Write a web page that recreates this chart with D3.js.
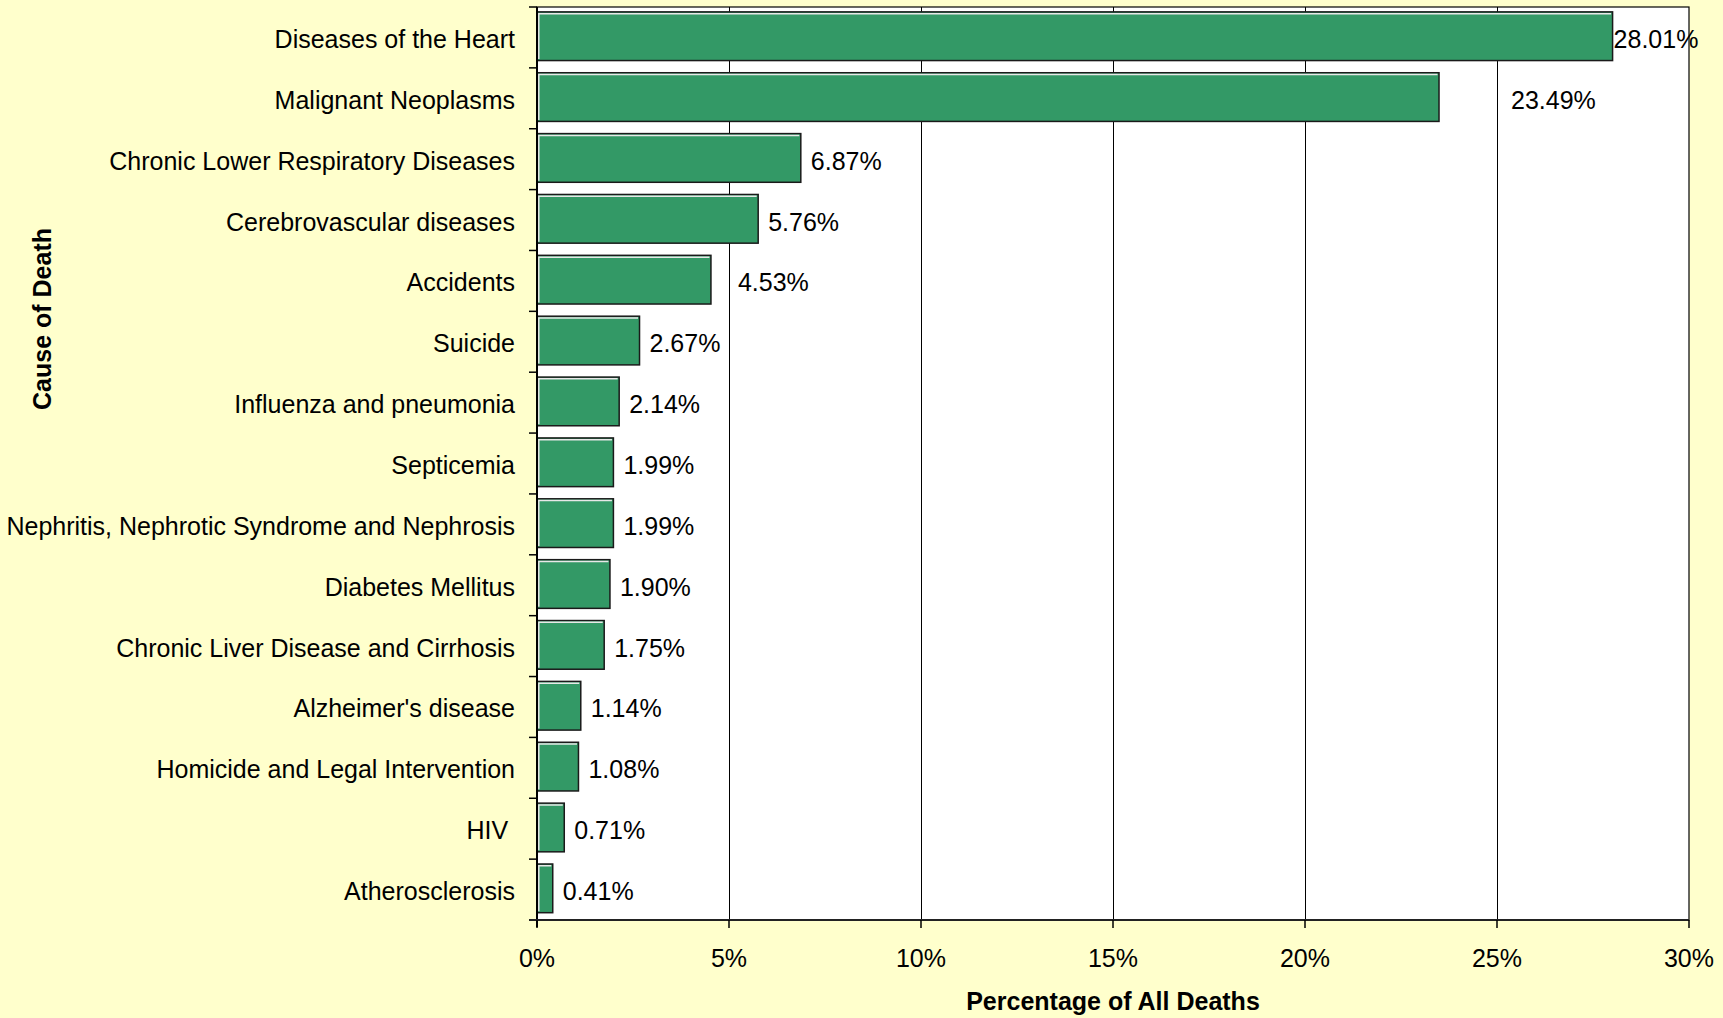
<!DOCTYPE html>
<html>
<head>
<meta charset="utf-8">
<script src="https://cdn.jsdelivr.net/npm/d3@7/dist/d3.min.js"></script>
<style>
  html, body { margin: 0; padding: 0; background: #FFFFCC; }
  svg { display: block; font-family: "Liberation Sans", Arial, sans-serif; }
</style>
</head>
<body>
<svg id="chart" width="1723" height="1018"></svg>
<script>
// ---- data ----
const categories = [
  "Diseases of the Heart",
  "Malignant Neoplasms",
  "Chronic Lower Respiratory Diseases",
  "Cerebrovascular diseases",
  "Accidents",
  "Suicide",
  "Influenza and pneumonia",
  "Septicemia",
  "Nephritis, Nephrotic Syndrome and Nephrosis",
  "Diabetes Mellitus",
  "Chronic Liver Disease and Cirrhosis",
  "Alzheimer's disease",
  "Homicide and Legal Intervention",
  "HIV ",
  "Atherosclerosis"
];
const values = [28.01, 23.49, 6.87, 5.76, 4.53, 2.67, 2.14, 1.99, 1.99, 1.90, 1.75, 1.14, 1.08, 0.71, 0.41];
const valueLabels = ["28.01%", "23.49%", "6.87%", "5.76%", "4.53%", "2.67%", "2.14%", "1.99%", "1.99%", "1.90%", "1.75%", "1.14%", "1.08%", "0.71%", "0.41%"];
const xTickValues = [0, 5, 10, 15, 20, 25, 30];
const xTickLabels = ["0%", "5%", "10%", "15%", "20%", "25%", "30%"];
const xTitle = "Percentage of All Deaths";
const yTitle = "Cause of Death";

// ---- layout (styling only) ----
const plot = { left: 537, right: 1689, top: 7, bottom: 920 };
const labelGapDefault = 10;
const labelGapOverride = { 0: 1, 1: 72, 4: 27 };
const barColor = "#339966";
const fontSize = 25;
const textBaselineShift = 10.5;

const svg = d3.select("#chart");
svg.append("rect").attr("width", 1723).attr("height", 1018).attr("fill", "#FFFFCC");

const x = d3.scaleLinear().domain([0, 30]).range([plot.left, plot.right]);
const y = d3.scaleBand().domain(categories).range([plot.top, plot.bottom])
  .paddingInner(0.2).paddingOuter(0.1).align(0.4);

// plot background
svg.append("rect")
  .attr("x", plot.left).attr("y", plot.top)
  .attr("width", plot.right - plot.left).attr("height", plot.bottom - plot.top)
  .attr("fill", "#FFFFFF").attr("stroke", "#000").attr("stroke-width", 1.2);

// gridlines
svg.append("g").selectAll("line")
  .data(xTickValues.filter(v => v > 0 && v < 30))
  .join("line")
  .attr("x1", d => Math.round(x(d)) + 0.5).attr("x2", d => Math.round(x(d)) + 0.5)
  .attr("y1", plot.top).attr("y2", plot.bottom)
  .attr("stroke", "#000").attr("stroke-width", 1);

// bars
const bars = svg.append("g");
categories.forEach((c, i) => {
  const bx = x(0), by = y(c), bw = x(values[i]) - x(0), bh = y.bandwidth();
  bars.append("rect")
    .attr("x", bx).attr("y", by).attr("width", bw).attr("height", bh)
    .attr("fill", barColor).attr("stroke", "#1a1a1a").attr("stroke-width", 1.5);
  bars.append("path")
    .attr("d", `M${bx + 1.8},${by + bh - 1.5} L${bx + 1.8},${by + 1.8} L${bx + bw - 1.5},${by + 1.8}`)
    .attr("fill", "none").attr("stroke", "#e8e8e8").attr("stroke-width", 1.5);
});

const bandCenter = c => plot.top + (categories.indexOf(c) + 0.5) * (plot.bottom - plot.top) / categories.length;

// value labels
svg.append("g").selectAll("text")
  .data(categories)
  .join("text")
  .attr("x", (c, i) => x(values[i]) + (labelGapOverride[i] !== undefined ? labelGapOverride[i] : labelGapDefault))
  .attr("y", c => bandCenter(c) + textBaselineShift)
  .attr("font-size", fontSize)
  .attr("fill", "#000")
  .text((c, i) => valueLabels[i]);

// y axis line and ticks
svg.append("line")
  .attr("x1", plot.left).attr("x2", plot.left)
  .attr("y1", plot.top).attr("y2", plot.bottom + 7)
  .attr("stroke", "#000").attr("stroke-width", 2);
const boundaries = d3.range(categories.length + 1).map(i => plot.top + i * (plot.bottom - plot.top) / categories.length);
svg.append("g").selectAll("line")
  .data(boundaries)
  .join("line")
  .attr("x1", plot.left - 8).attr("x2", plot.left)
  .attr("y1", d => d).attr("y2", d => d)
  .attr("stroke", "#000").attr("stroke-width", 1.5);

// category labels
svg.append("g").selectAll("text")
  .data(categories)
  .join("text")
  .attr("x", 515)
  .attr("y", c => bandCenter(c) + textBaselineShift)
  .attr("text-anchor", "end")
  .attr("font-size", fontSize)
  .style("white-space", "pre")
  .attr("fill", "#000")
  .text(c => c);

// x axis line and ticks
svg.append("line")
  .attr("x1", plot.left - 8).attr("x2", plot.right)
  .attr("y1", plot.bottom).attr("y2", plot.bottom)
  .attr("stroke", "#222").attr("stroke-width", 2);
svg.append("g").selectAll("line")
  .data(xTickValues)
  .join("line")
  .attr("x1", d => x(d)).attr("x2", d => x(d))
  .attr("y1", plot.bottom).attr("y2", plot.bottom + 8)
  .attr("stroke", "#000").attr("stroke-width", 1.5);
svg.append("g").selectAll("text")
  .data(xTickValues)
  .join("text")
  .attr("x", d => x(d))
  .attr("y", 967)
  .attr("text-anchor", "middle")
  .attr("font-size", fontSize)
  .attr("fill", "#000")
  .text((d, i) => xTickLabels[i]);

// titles
svg.append("text")
  .attr("x", (plot.left + plot.right) / 2)
  .attr("y", 1010)
  .attr("text-anchor", "middle")
  .attr("font-size", 25).attr("font-weight", "bold")
  .attr("fill", "#000")
  .text(xTitle);
svg.append("text")
  .attr("transform", "translate(42,319) rotate(-90)")
  .attr("text-anchor", "middle")
  .attr("dominant-baseline", "central")
  .attr("font-size", 25).attr("font-weight", "bold")
  .attr("fill", "#000")
  .text(yTitle);
</script>
</body>
</html>
